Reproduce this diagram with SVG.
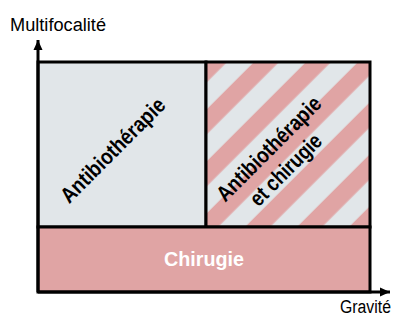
<svg xmlns="http://www.w3.org/2000/svg" width="397" height="320" viewBox="0 0 397 320">
  <defs>
    <pattern id="stripes" patternUnits="userSpaceOnUse" width="36.77" height="36.77" patternTransform="rotate(45)">
      <rect x="0" y="0" width="36.77" height="36.77" fill="#e1e6e9"/>
      <rect x="2.83" y="-1" width="17.7" height="38.77" fill="#e0a4a4"/>
    </pattern>
    <marker id="arrow" markerUnits="userSpaceOnUse" markerWidth="12" markerHeight="10" refX="10" refY="5" orient="auto">
      <path d="M0,0.5 L10,5 L0,9.5 Z" fill="#000"/>
    </marker>
    <style>
      .box { stroke: #000; stroke-width: 3; }
      .axis { fill: none; stroke: #000; stroke-width: 3; }
      .rot { font-family: "Liberation Sans", Arial, sans-serif; font-weight: bold; font-size: 22px; fill: #000; text-anchor: middle; }
      .lab { font-family: "Liberation Sans", Arial, sans-serif; font-size: 18px; fill: #000; }
    </style>
  </defs>
  <rect width="397" height="320" fill="#fff"/>

  <g id="antibiotherapie">
    <rect class="box" x="38" y="62" width="168" height="165" fill="#e1e6e9"/>
    <text class="rot" x="118" y="155.5" textLength="138" lengthAdjust="spacingAndGlyphs" transform="rotate(-45 118 155.5)">Antibiothérapie</text>
  </g>

  <g id="antibiotherapie-et-chirugie">
    <rect class="box" x="206" y="62" width="164" height="165" fill="url(#stripes)"/>
    <text class="rot" x="274" y="154" textLength="138" lengthAdjust="spacingAndGlyphs" transform="rotate(-45 274 154)">Antibiothérapie</text>
    <text class="rot" x="291" y="175" textLength="92" lengthAdjust="spacingAndGlyphs" transform="rotate(-45 291 175)">et chirugie</text>
  </g>

  <g id="chirugie">
    <rect class="box" x="38" y="227" width="332" height="65" fill="#e0a4a4"/>
    <text x="204" y="265.5" text-anchor="middle" font-family="Liberation Sans, Arial, sans-serif" font-weight="bold" font-size="20" fill="#fff" textLength="80" lengthAdjust="spacingAndGlyphs">Chirugie</text>
  </g>

  <g id="connectors">
    <path class="axis" d="M38,292 L38,40" marker-end="url(#arrow)"/>
    <path class="axis" d="M38,292 L390,292" marker-end="url(#arrow)"/>
  </g>

  <g id="axis-labels">
    <text class="lab" x="10" y="30.5" font-size="19" textLength="96" lengthAdjust="spacingAndGlyphs">Multifocalité</text>
    <text class="lab" x="340" y="313" font-size="16.5" textLength="51" lengthAdjust="spacingAndGlyphs">Gravité</text>
  </g>
</svg>
